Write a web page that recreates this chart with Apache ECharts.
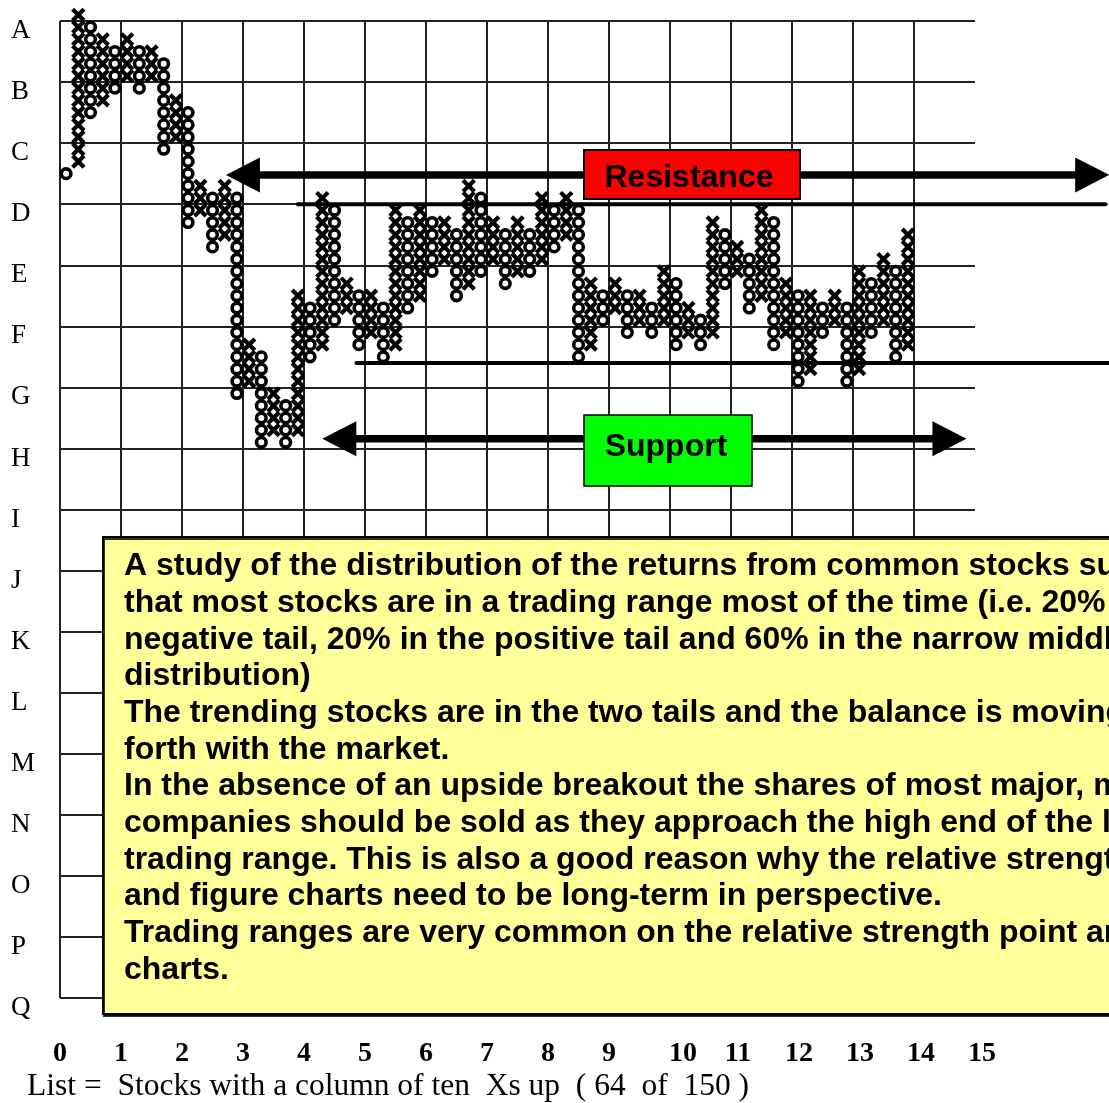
<!DOCTYPE html>
<html>
<head>
<meta charset="utf-8">
<script src="https://cdn.jsdelivr.net/npm/echarts@6/dist/echarts.min.js"></script>
<style>
  html, body { margin: 0; padding: 0; background: #fff; }
  #main { width: 1109px; height: 1103px; }
</style>
</head>
<body>
<div id="main"></div>
<script>
// row letters, top (A) to bottom (Q)
var rowLabels = ['A','B','C','D','E','F','G','H','I','J','K','L','M','N','O','P','Q'];
var colLabels = ['0','1','2','3','4','5','6','7','8','9','10','11','12','13','14','15'];

// point & figure columns (box levels counted up from row Q, 5 boxes per row)
var colType = ['O','X','O','X','O','X','O','X','O','X',
               'O','X','O','X','O','X','O','X','O','X',
               'O','X','O','X','O','X','O','X','O','X',
               'O','X','O','X','O','X','O','X','O','X',
               'O','X','O','X','O','X','O','X','O','X',
               'O','X','O','X','O','X','O','X','O','X',
               'O','X','O','X','O','X','O','X','O','X'];
var colHigh = [67,80,79,78,77,78,77,77,76,73,
               72,66,65,66,65,53,52,49,48,57,
               56,65,64,58,57,57,56,64,63,64,
               63,63,62,66,65,63,62,63,62,65,
               64,65,64,58,57,58,57,57,56,59,
               58,56,55,63,62,61,60,64,63,58,
               57,57,56,57,56,59,58,60,59,62];
var colLow  = [67,68,72,73,74,75,74,75,69,70,
               63,64,61,62,49,50,45,46,45,46,
               52,53,55,56,53,54,52,53,56,57,
               59,60,57,58,59,60,58,59,59,60,
               61,62,52,53,55,56,54,55,54,55,
               53,54,53,54,58,59,56,57,53,54,
               50,51,54,55,50,51,54,55,52,53];

// annotation levels (x in columns, y in box levels)
var resistanceLine = { level: 65, from: 19.5, to: 85.7 };
var supportLine = { level: 52, from: 24.3, to: 92 };
var resistanceArrow = { level: 67.4, from: 13.6, to: 86.0 };
var supportArrow = { level: 45.8, from: 21.5, to: 74.3 };

var noteLines = [
  'A study of the distribution of the returns from common stocks suggests',
  'that most stocks are in a trading range most of the time (i.e. 20% in the',
  'negative tail, 20% in the positive tail and 60% in the narrow middle of the',
  'distribution)',
  'The trending stocks are in the two tails and the balance is moving back and',
  'forth with the market.',
  'In the absence of an upside breakout the shares of most major, mature',
  'companies should be sold as they approach the high end of the long-term',
  'trading range. This is also a good reason why the relative strength point',
  'and figure charts need to be long-term in perspective.',
  'Trading ranges are very common on the relative strength point and figure',
  'charts.'
];
var footer = 'List =  Stocks with a column of ten  Xs up  ( 64  of  150 )';

var chart = echarts.init(document.getElementById('main'));

var colData = [];
for (var i = 0; i < colType.length; i++) {
    colData.push([i, colLow[i], colHigh[i]]);
}

function renderColumn(params, api) {
    var k = api.value(0);
    var lo = api.value(1);
    var hi = api.value(2);
    var isX = colType[params.dataIndex] === 'X';
    var box = api.size([1, 1]);
    var h = box[0] / 2 - 0.4;
    var children = [];
    for (var b = lo; b <= hi; b++) {
        var p = api.coord([k + 0.5, b + 0.5]);
        if (isX) {
            children.push({
                type: 'polyline',
                shape: { points: [[p[0] - h, p[1] - h], [p[0] + h, p[1] + h]] },
                style: { stroke: '#000', lineWidth: 4.2, fill: null }
            });
            children.push({
                type: 'polyline',
                shape: { points: [[p[0] + h, p[1] - h], [p[0] - h, p[1] + h]] },
                style: { stroke: '#000', lineWidth: 4.2, fill: null }
            });
        } else {
            children.push({
                type: 'circle',
                shape: { cx: p[0], cy: p[1], r: 4.8 },
                style: { fill: '#fff', stroke: '#000', lineWidth: 3.6 }
            });
        }
    }
    return { type: 'group', children: children };
}

var option = {
    animation: false,
    backgroundColor: '#fff',
    grid: { left: 60, top: 21, width: 915, height: 977 },
    xAxis: {
        type: 'value',
        min: 0,
        max: 75,
        interval: 5,
        axisLine: { show: false },
        axisTick: { show: false },
        splitLine: { show: true, showMaxLine: false, lineStyle: { color: '#222', width: 2 } },
        axisLabel: {
            margin: 42,
            color: '#000',
            fontFamily: 'Liberation Serif',
            fontWeight: 'bold',
            fontSize: 28,
            formatter: function (v) {
                var s = colLabels[v / 5];
                if (v === 50) return '{t|' + s + '}';
                return v > 50 ? '{w|' + s + '}' : s;
            },
            rich: {
                t: { padding: [0, 0, 0, 26], fontFamily: 'Liberation Serif', fontWeight: 'bold', fontSize: 28, color: '#000' },
                w: { padding: [0, 0, 0, 14], fontFamily: 'Liberation Serif', fontWeight: 'bold', fontSize: 28, color: '#000' }
            }
        }
    },
    yAxis: {
        type: 'value',
        min: 0,
        max: 80,
        interval: 5,
        axisLine: { show: false },
        axisTick: { show: false },
        splitLine: { show: true, lineStyle: { color: '#222', width: 2 } },
        axisLabel: {
            align: 'left',
            verticalAlign: 'top',
            lineHeight: 20,
            margin: 49,
            color: '#000',
            fontFamily: 'Liberation Serif',
            fontSize: 27,
            formatter: function (v) { return rowLabels[(80 - v) / 5]; }
        }
    },
    series: [{
        type: 'custom',
        clip: false,
        renderItem: renderColumn,
        data: colData,
        z: 5
    }]
};

chart.setOption(option);

function px(x, y) {
    return chart.convertToPixel({ gridIndex: 0 }, [x, y]);
}

function arrowGraphic(a, thick, head, halfH) {
    var l = px(a.from, a.level);
    var r = px(a.to, a.level);
    var y = l[1];
    return [
        { type: 'rect', z: 100, shape: { x: l[0] + head - 1, y: y - thick / 2, width: r[0] - l[0] - 2 * head + 2, height: thick }, style: { fill: '#000' } },
        { type: 'polygon', z: 100, shape: { points: [[l[0], y], [l[0] + head, y - halfH], [l[0] + head, y + halfH]] }, style: { fill: '#000' } },
        { type: 'polygon', z: 100, shape: { points: [[r[0], y], [r[0] - head, y - halfH], [r[0] - head, y + halfH]] }, style: { fill: '#000' } }
    ];
}

function levelLine(a, thick) {
    var l = px(a.from, a.level);
    var r = px(a.to, a.level);
    return {
        type: 'line', z: 100,
        shape: { x1: l[0], y1: l[1], x2: r[0], y2: r[1] },
        style: { stroke: '#000', lineWidth: thick, lineCap: 'round' }
    };
}

var elements = [];
elements.push(levelLine(resistanceLine, 4));
elements.push(levelLine(supportLine, 4));
elements = elements.concat(arrowGraphic(resistanceArrow, 7.5, 34, 17.5));
elements = elements.concat(arrowGraphic(supportArrow, 7.5, 34, 17.5));

// Resistance label (text bottom cut by the box like the original)
elements.push({ type: 'rect', z: 110, shape: { x: 584, y: 150, width: 216, height: 49 }, style: { fill: '#ff0000', stroke: '#000', lineWidth: 2 } });
elements.push({ type: 'text', z: 111, style: { text: 'Resistance', x: 689, y: 194, textAlign: 'center', textVerticalAlign: 'bottom', fontFamily: 'Liberation Sans', fontWeight: 'bold', fontSize: 32, fill: '#000' } });
elements.push({ type: 'rect', z: 112, shape: { x: 585, y: 187, width: 214, height: 11 }, style: { fill: '#ff0000' } });

// Support label
elements.push({ type: 'rect', z: 110, shape: { x: 584, y: 415, width: 168, height: 71 }, style: { fill: '#00ff00', stroke: '#000', lineWidth: 1.5 } });
elements.push({ type: 'text', z: 111, style: { text: 'Support', x: 666, y: 447, textAlign: 'center', textVerticalAlign: 'middle', fontFamily: 'Liberation Sans', fontWeight: 'bold', fontSize: 32, fill: '#000' } });

// note box
elements.push({ type: 'rect', z: 120, shape: { x: 103, y: 537, width: 1100, height: 477 }, style: { fill: '#ffff99', stroke: '#000', lineWidth: 2, shadowColor: 'rgba(0,0,0,0.8)', shadowOffsetY: 2, shadowOffsetX: 1 } });
elements.push({ type: 'text', z: 121, style: { text: noteLines.join('\n'), x: 124, y: 548, textAlign: 'left', textVerticalAlign: 'top', lineHeight: 36.7, fontFamily: 'Liberation Sans', fontWeight: 'bold', fontSize: 32, fill: '#000' } });

// footer
elements.push({ type: 'text', z: 100, style: { text: footer, x: 27, y: 1087, textAlign: 'left', textVerticalAlign: 'middle', fontFamily: 'Liberation Serif', fontSize: 31.5, fill: '#000' } });

chart.setOption({ graphic: { elements: elements } });
</script>
</body>
</html>
